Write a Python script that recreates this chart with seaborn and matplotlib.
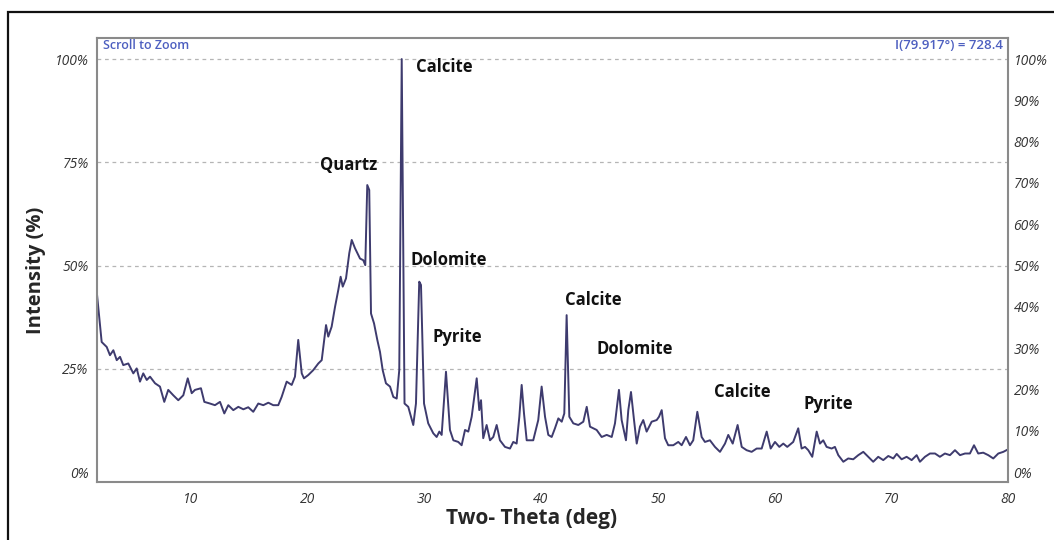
import matplotlib
matplotlib.use("Agg")
import matplotlib.pyplot as plt
import seaborn as sns
import pandas as pd
from matplotlib.patches import Rectangle

# ---- data (2-theta in degrees, intensity in %) ----
two_theta = [
    2.00, 2.40, 2.83, 3.11, 3.40, 3.69, 3.97, 4.25, 4.68, 5.11, 5.40, 5.68, 5.96,
    6.26, 6.54, 6.97, 7.39, 7.76, 8.10, 8.53, 8.96, 9.39, 9.77, 10.11, 10.39,
    10.90, 11.19, 11.67, 12.10, 12.53, 12.90, 13.24, 13.67, 14.10, 14.53, 14.95,
    15.38, 15.81, 16.24, 16.67, 17.09, 17.52, 17.81, 18.24, 18.67, 18.95, 19.23,
    19.53, 19.72, 20.09, 20.52, 20.95, 21.24, 21.61, 21.80, 22.09, 22.38, 22.66,
    22.86, 23.04, 23.32, 23.60, 23.81, 24.09, 24.52, 24.80, 24.97, 25.14, 25.31,
    25.46, 25.72, 26.00, 26.23, 26.46, 26.74, 27.09, 27.37, 27.66, 27.88, 28.09,
    28.33, 28.65, 29.08, 29.31, 29.59, 29.74, 30.00, 30.36, 30.79, 31.08, 31.31,
    31.51, 31.88, 32.22, 32.51, 32.93, 33.22, 33.51, 33.79, 34.08, 34.51, 34.73,
    34.88, 35.07, 35.36, 35.65, 35.93, 36.22, 36.50, 36.93, 37.36, 37.64, 37.93,
    38.16, 38.36, 38.56, 38.79, 39.35, 39.78, 40.07, 40.36, 40.64, 40.93, 41.21,
    41.50, 41.79, 42.01, 42.21, 42.44, 42.78, 43.21, 43.64, 43.93, 44.21, 44.49,
    44.78, 45.21, 45.64, 46.07, 46.35, 46.69, 46.92, 47.29, 47.49, 47.72, 47.98,
    48.21, 48.49, 48.77, 49.06, 49.49, 49.92, 50.12, 50.35, 50.63, 50.91, 51.34,
    51.77, 52.06, 52.43, 52.77, 53.05, 53.40, 53.77, 54.05, 54.48, 54.91, 55.34,
    55.77, 56.05, 56.43, 56.85, 57.20, 57.62, 58.05, 58.48, 58.91, 59.34, 59.68,
    60.05, 60.42, 60.76, 61.10, 61.61, 62.04, 62.33, 62.62, 62.90, 63.24, 63.62,
    63.90, 64.18, 64.47, 64.90, 65.18, 65.47, 65.90, 66.32, 66.75, 67.18, 67.61,
    68.04, 68.46, 68.89, 69.32, 69.75, 70.18, 70.47, 70.89, 71.32, 71.75, 72.18,
    72.46, 72.89, 73.32, 73.75, 74.17, 74.60, 75.03, 75.46, 75.89, 76.32, 76.74,
    77.09, 77.45, 77.88, 78.31, 78.74, 79.17, 79.60, 80.00,
]
intensity = [
    43.0, 31.5, 30.3, 28.3, 29.5, 27.1, 27.9, 25.9, 26.3, 23.9, 25.1, 21.9, 23.9,
    22.3, 23.1, 21.5, 20.7, 17.0, 19.9, 18.6, 17.4, 18.6, 22.7, 19.1, 19.9,
    20.3, 17.0, 16.6, 16.2, 17.0, 14.2, 16.2, 15.0, 15.8, 15.2, 15.7,
    14.6, 16.6, 16.2, 16.8, 16.2, 16.2, 18.2, 21.9, 21.1, 23.1, 32.0,
    23.9, 22.7, 23.5, 24.7, 26.3, 27.1, 35.6, 32.8, 35.2, 40.0, 44.1,
    47.3, 44.9, 46.9, 53.0, 56.2, 54.2, 51.7, 51.3, 50.1, 69.5, 68.3,
    38.4, 36.0, 32.0, 29.1, 24.7, 21.5, 20.7, 18.2, 17.8, 24.7, 100.0,
    16.6, 15.8, 11.4, 16.6, 46.1, 45.3, 16.6, 11.8, 9.4, 8.5, 9.8,
    9.0, 24.3, 10.2, 7.7, 7.3, 6.5, 10.2, 9.8, 13.4, 22.7, 15.0,
    17.4, 8.2, 11.4, 7.7, 8.5, 11.4, 7.7, 6.1, 5.7, 7.3, 6.9,
    13.4, 21.1, 14.2, 7.7, 7.7, 12.6, 20.7, 13.4, 9.0, 8.5, 10.6,
    13.0, 12.2, 14.2, 38.0, 13.4, 11.8, 11.4, 12.2, 15.8, 11.0, 10.6,
    10.2, 8.5, 9.0, 8.5, 11.8, 19.9, 12.6, 7.7, 15.0, 19.4, 12.6,
    6.9, 11.0, 12.6, 9.8, 12.2, 12.6, 13.4, 15.0, 8.2, 6.5, 6.5,
    7.3, 6.5, 8.5, 6.5, 7.7, 14.6, 8.5, 7.3, 7.7, 6.1, 4.9,
    6.9, 9.0, 6.9, 11.4, 6.1, 5.3, 4.9, 5.7, 5.7, 9.8, 5.7,
    7.3, 6.1, 6.9, 6.1, 7.3, 10.6, 5.7, 6.1, 5.3, 3.7, 9.8,
    6.9, 7.7, 6.1, 5.7, 6.1, 4.1, 2.5, 3.3, 3.1, 4.1, 4.9,
    3.7, 2.5, 3.7, 2.9, 3.9, 3.3, 4.4, 3.1, 3.7, 2.9, 4.1,
    2.5, 3.7, 4.5, 4.5, 3.7, 4.5, 4.1, 5.3, 4.1, 4.5, 4.5,
    6.5, 4.5, 4.7, 4.1, 3.3, 4.5, 4.9, 5.5,
]

peak_labels = ["Calcite", "Quartz", "Dolomite", "Pyrite", "Calcite", "Dolomite", "Calcite", "Pyrite"]
peak_label_x = [29.3, 21.1, 28.8, 30.7, 42.1, 44.8, 54.8, 62.5]
peak_label_y = [98.1, 74.3, 51.3, 32.7, 41.6, 29.8, 19.4, 16.5]

x_ticks = [10, 20, 30, 40, 50, 60, 70, 80]
left_ticks = [0, 25, 50, 75, 100]
right_ticks = [0, 10, 20, 30, 40, 50, 60, 70, 80, 90, 100]

df = pd.DataFrame({"two_theta": two_theta, "intensity": intensity})

sns.set_style("white")
plt.rcParams["font.family"] = ["Open Sans", "DejaVu Sans"]

W, H = 1054, 540
fig = plt.figure(figsize=(W / 100, H / 100), dpi=100)
ax = fig.add_axes([97 / W, 1 - 482 / H, (1008 - 97) / W, (482 - 38) / H])

sns.lineplot(data=df, x="two_theta", y="intensity", ax=ax, color="#3e3b6e", linewidth=1.4)

ax.set_xlim(2, 80)
ax.set_ylim(-2.4, 105.1)

ax.set_xticks(x_ticks)
ax.set_xticklabels([str(t) for t in x_ticks], fontstyle="italic", fontsize=10, color="#333333")
ax.set_yticks(left_ticks)
ax.set_yticklabels([f"{t}%" for t in left_ticks], fontstyle="italic", fontsize=10, color="#333333")
ax.tick_params(axis="x", length=0, pad=7)
ax.tick_params(axis="y", length=0, pad=6)
ax.yaxis.grid(True, linestyle=(0, (3, 3)), color="#b5b5b5", linewidth=0.9)
ax.get_ygridlines()[0].set_visible(False)
ax.xaxis.grid(False)
for side in ["left", "right", "top", "bottom"]:
    ax.spines[side].set_visible(True)
    ax.spines[side].set_color("#8a8a8a")
    ax.spines[side].set_linewidth(1.5)

ax.set_xlabel("Two- Theta (deg)", fontsize=15, fontweight="bold", labelpad=1)
ax.xaxis.label.set_x(0.4775)
ax.set_ylabel("Intensity (%)", fontsize=14.5, fontweight="bold")
ax.yaxis.set_label_coords(-0.056, 0.477)

ax2 = ax.twinx()
ax2.set_ylim(ax.get_ylim())
ax2.set_yticks(right_ticks)
ax2.set_yticklabels([f"{t}%" for t in right_ticks], fontstyle="italic", fontsize=10, color="#333333")
ax2.tick_params(axis="y", length=0, pad=4)
for side in ["left", "right", "top", "bottom"]:
    ax2.spines[side].set_visible(False)
ax2.grid(False)

for lab, lx, ly in zip(peak_labels, peak_label_x, peak_label_y):
    ax.text(lx, ly, lab, fontsize=12, fontweight="bold", color="#111111", ha="left", va="center")

ax.text(0.007, 0.997, "Scroll to Zoom", transform=ax.transAxes, fontsize=9,
        fontweight="semibold", color="#4d5fc0", ha="left", va="top")
ax.text(0.995, 0.997, "I(79.917°) = 728.4", transform=ax.transAxes, fontsize=9.5,
        fontweight="semibold", color="#4d5fc0", ha="right", va="top")

# outer frame of the original figure
fig.patches.append(Rectangle((8 / W, -0.05), 1.1, 1 - 12 / H + 0.05, transform=fig.transFigure,
                             fill=False, edgecolor="#111111", linewidth=1.6))

fig.savefig("out.png", dpi=100)
